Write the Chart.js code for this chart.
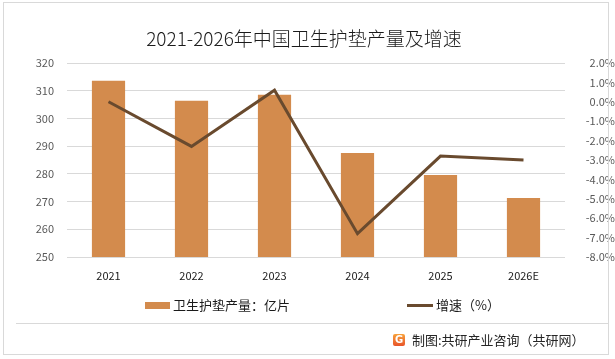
<!DOCTYPE html>
<html><head><meta charset="utf-8">
<script src="https://cdn.jsdelivr.net/npm/chart.js@4/dist/chart.umd.min.js"></script>
<style>
body{margin:0;background:#fff;}
#wrap{position:relative;width:615px;height:359px;overflow:hidden;font-family:"Noto Sans CJK SC","Noto Sans",sans-serif;background:#fff;}
#frame{position:absolute;left:3px;top:2px;width:606px;height:353px;border:1px solid #d9d9d9;box-sizing:border-box;}
#sep{position:absolute;left:16px;top:323px;width:592px;height:1px;background:#d9d9d9;}
canvas{position:absolute;left:0;top:0;}
#title{position:absolute;left:0;top:24px;width:608px;text-align:center;font-size:19px;line-height:28px;color:#1a1a1a;white-space:nowrap;font-weight:300;}
.lg{position:absolute;font-size:13px;line-height:16px;color:#1a1a1a;white-space:nowrap;}
.sw{position:absolute;}
#foot{position:absolute;left:412px;top:331px;font-size:13px;line-height:18px;color:#262626;white-space:nowrap;}
#logo{position:absolute;left:393px;top:334px;width:12px;height:12px;border-radius:2px;background:linear-gradient(180deg,#f7a23a,#e8542a);color:#fff;font:bold 10px/12px "DejaVu Sans",sans-serif;text-align:center;}
</style></head>
<body>
<div id="wrap">
  <canvas id="c" width="615" height="359"></canvas>
  <div id="frame"></div>
  <div id="sep"></div>
  <div id="title">2021-2026年中国卫生护垫产量及增速</div>
  <div class="sw" style="left:145px;top:302px;width:25px;height:7px;background:#D38B4D"></div>
  <div class="lg" id="lg1" style="left:173px;top:297px;">卫生护垫产量：亿片</div>
  <div class="sw" style="left:407px;top:304px;width:26px;height:3px;background:#694A2E"></div>
  <div class="lg" id="lg2" style="left:436px;top:297px;">增速（%）</div>
  <div id="logo">G</div>
  <div id="foot">制图:共研产业咨询（共研网）</div>
</div>
<script>
const categories = ['2021','2022','2023','2024','2025','2026E'];
const production = [313.6, 306.4, 308.5, 287.5, 279.6, 271.3];
const growth = [0.0, -2.3, 0.6, -6.8, -2.8, -3.0];
const seriesNames = ['卫生护垫产量：亿片', '增速（%）'];

const tickFont = {family: '"Noto Sans CJK SC","Noto Sans",sans-serif', size: 11};

new Chart(document.getElementById('c'), {
  data: {
    labels: categories,
    datasets: [
      {type: 'line', label: seriesNames[1], data: growth, yAxisID: 'y1', order: 1,
       borderColor: '#694A2E', borderWidth: 3, pointRadius: 0, tension: 0, fill: false},
      {type: 'bar', label: seriesNames[0], data: production, yAxisID: 'y', order: 2,
       backgroundColor: '#D38B4D', categoryPercentage: 1, barPercentage: 0.4}
    ]
  },
  options: {
    responsive: false,
    devicePixelRatio: 1,
    animation: false,
    layout: {padding: {top: 63, left: 0, right: 0, bottom: 72}},
    plugins: {legend: {display: false}, title: {display: false}, tooltip: {enabled: false}},
    scales: {
      x: {
        offset: true,
        grid: {display: false, drawTicks: false},
        border: {display: false},
        ticks: {font: tickFont, color: '#1a1a1a', padding: 12, maxRotation: 0},
        afterFit: s => { s.height = 30; }
      },
      y: {
        position: 'left', min: 250, max: 320,
        ticks: {stepSize: 10, font: tickFont, color: '#595959', padding: 13},
        grid: {color: '#d9d9d9', lineWidth: 1, drawTicks: false},
        border: {display: false},
        afterFit: s => { s.width = 67; }
      },
      y1: {
        position: 'right', min: -8, max: 2,
        ticks: {stepSize: 1, font: tickFont, color: '#595959', padding: 11, crossAlign: 'far',
                callback: v => Number(v).toFixed(1) + '%'},
        grid: {display: false, drawTicks: false},
        border: {display: false},
        afterFit: s => { s.width = 50; }
      }
    }
  }
});
</script>
</body></html>
